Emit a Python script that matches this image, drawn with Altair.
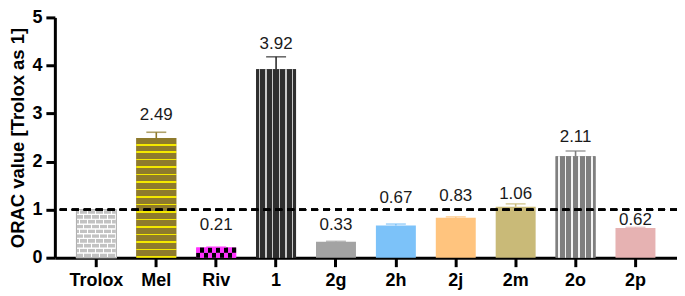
import altair as alt
import pandas as pd

categories = ["Trolox", "Mel", "Riv", "1", "2g", "2h", "2j", "2m", "2o", "2p"]
values = [1.00, 2.49, 0.21, 3.92, 0.33, 0.67, 0.83, 1.06, 2.11, 0.62]
errors = [0.00, 0.12, 0.01, 0.26, 0.01, 0.03, 0.02, 0.06, 0.11, 0.01]
labels = ["", "2.49", "0.21", "3.92", "0.33", "0.67", "0.83", "1.06", "2.11", "0.62"]
label_at = [None, 2.86, 0.57, 4.35, 0.57, 1.14, 1.18, 1.22, 2.41, 0.67]
bar_colors = ["#C8C8C8", "#8E7A2C", "#FF33FF", "#2E2E2E", "#A3A3A3",
              "#7CC2F9", "#FFC47E", "#C9BA78", "#7F7F7F", "#E6B2B2"]
err_colors = ["#BBBBBB", "#8E7A2C", "#444444", "#2E2E2E", "#A3A3A3",
              "#7CC2F9", "#FFC47E", "#BFAE66", "#7F7F7F", "#E6B2B2"]

df = pd.DataFrame({"cat": categories, "value": values, "err": errors,
                   "label": labels, "label_at": label_at})
df["top"] = df["value"] + df["err"]

FONT = "Liberation Sans"


def stripes(base, line, n, frac, vertical_lines, phase=0.0):
    """Hard-stop linear gradient giving n stripes across the mark."""
    stops = []
    p = 1.0 / n
    for i in range(n + 1):
        s = i * p + phase * p
        a = min(max(s, 0), 1)
        b = min(max(s + p * (1 - frac), 0), 1)
        c = min(max(s + p, 0), 1)
        stops += [{"offset": a, "color": base}, {"offset": b, "color": base},
                  {"offset": b, "color": line}, {"offset": c, "color": line}]
    g = {"gradient": "linear", "stops": stops}
    if vertical_lines:
        g.update({"x1": 0, "y1": 0, "x2": 1, "y2": 0})
    else:
        g.update({"x1": 0, "y1": 0, "x2": 0, "y2": 1})
    return g


xscale = alt.Scale(domain=categories, paddingInner=0.333, paddingOuter=0.36)
yscale = alt.Scale(domain=[0, 5])
X = alt.X("cat:N", scale=xscale, sort=categories,
          axis=alt.Axis(title=None, labelAngle=0, labelPadding=5))
Y = alt.Y("value:Q", scale=yscale,
          axis=alt.Axis(title="ORAC value [Trolox as 1]", values=[0, 1, 2, 3, 4, 5],
                        grid=False, labelPadding=4, titlePadding=4))

base = alt.Chart(df)

bars = base.mark_bar().encode(
    x=X, y=Y,
    color=alt.Color("cat:N", scale=alt.Scale(domain=categories, range=bar_colors), legend=None),
)

# patterned bars
mel = base.transform_filter("datum.cat == 'Mel'").mark_bar(
    fill=stripes("#8E7A2C", "#F4E800", 16, 0.2, False)).encode(x=X, y=Y)
one = base.transform_filter("datum.cat == '1'").mark_bar(
    fill=stripes("#2E2E2E", "#C8C8C8", 6, 0.22, True, phase=-0.4)).encode(x=X, y=Y)
two_o = base.transform_filter("datum.cat == '2o'").mark_bar(
    fill=stripes("#7F7F7F", "#F4F4F4", 6, 0.22, True, phase=-0.4)).encode(x=X, y=Y)

# Riv checkerboard: two half rows with offset stripes
riv = base.transform_filter("datum.cat == 'Riv'").transform_calculate(half="datum.value / 2")
riv_lo = riv.mark_bar(fill=stripes("#000000", "#FF33FF", 5, 0.5, True)).encode(
    x=X, y=alt.Y("half:Q", scale=yscale), y2=alt.Y2(datum=0))
riv_hi = riv.mark_bar(fill=stripes("#FF33FF", "#000000", 5, 0.5, True)).encode(
    x=X, y=alt.Y("half:Q", scale=yscale), y2="value:Q")

# Trolox bricks: rows with alternating vertical joints
trol = base.transform_filter("datum.cat == 'Trolox'")
brick_layers = []
rows = 10
for k in range(rows):
    ph = 0.0 if k % 2 == 0 else -0.5
    brick_layers.append(
        trol.transform_calculate(
            y0=f"datum.value * {k} / {rows}", y1=f"datum.value * {k + 1} / {rows}"
        ).mark_bar(fill=stripes("#C2C2C2", "#FFFFFF", 5, 0.14, True, phase=ph),
                   stroke="#FFFFFF", strokeWidth=1.2).encode(
            x=X, y=alt.Y("y0:Q", scale=yscale), y2="y1:Q")
    )
trol_outline = trol.mark_bar(fillOpacity=0, stroke="#ABABAB", strokeWidth=1).encode(x=X, y=Y)

ecolor = alt.Color("cat:N", scale=alt.Scale(domain=categories, range=err_colors), legend=None)
err_df = base.transform_filter("datum.err > 0")
err_rule = err_df.mark_rule(strokeWidth=1.6).encode(
    x=X, y=alt.Y("value:Q", scale=yscale), y2="top:Q", color=ecolor)
err_cap = err_df.mark_tick(orient="horizontal", size=20, thickness=1.6).encode(
    x=X, y=alt.Y("top:Q", scale=yscale), color=ecolor)

text = base.transform_filter("datum.label != ''").mark_text(
    font=FONT, fontSize=17, color="#1A1A1A", baseline="alphabetic").encode(
    x=X, y=alt.Y("label_at:Q", scale=yscale), text="label:N")

dash = alt.Chart(df).mark_rule(color="black", strokeWidth=2, strokeDash=[7, 5]).encode(
    y=alt.Y(datum=1, scale=yscale))

chart = alt.layer(
    bars, mel, one, two_o, riv_lo, riv_hi, *brick_layers, trol_outline,
    err_rule, err_cap, text, dash
).properties(
    width=624, height=241,
    autosize=alt.AutoSizeParams(type="none"),
    padding={"left": 47, "top": 9, "right": 0, "bottom": 38},
).configure_view(stroke=None).configure_axis(
    domainColor="black", domainWidth=3, tickColor="black", tickWidth=3, tickSize=9,
    labelFont=FONT, labelFontSize=18, labelFontWeight="bold", labelColor="black",
    titleFont=FONT, titleFontSize=18.5, titleFontWeight="bold", titleColor="black",
)

chart.save("out.html", embed_options={"renderer": "svg", "actions": False})
